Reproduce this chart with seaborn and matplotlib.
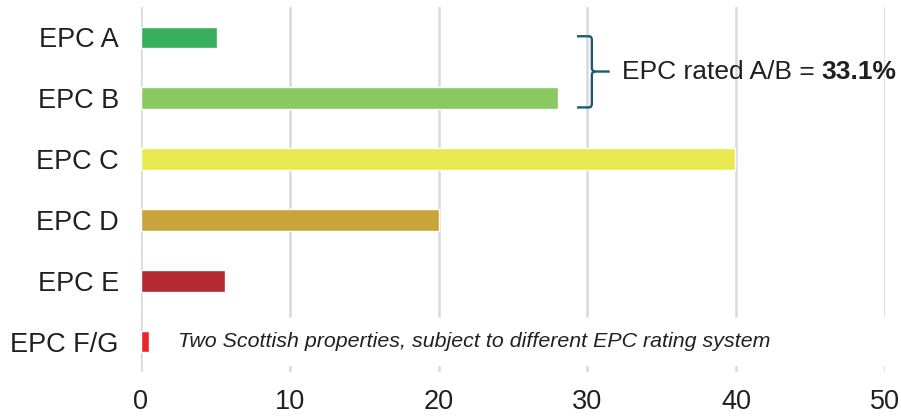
import matplotlib
matplotlib.use("Agg")
import matplotlib.pyplot as plt
from matplotlib.path import Path
from matplotlib.patches import PathPatch
import pandas as pd
import seaborn as sns

# Datos del gráfico (porcentaje de propiedades por calificación EPC)
categorias = ["EPC A", "EPC B", "EPC C", "EPC D", "EPC E", "EPC F/G"]
porcentajes = [5.1, 28.0, 39.9, 20.0, 5.65, 0.55]
colores = ["#37ae5b", "#8ac862", "#eae84f", "#c8a43d", "#b42a30", "#eb2628"]
ticks_x = [0, 10, 20, 30, 40, 50]
texto_ab = "EPC rated A/B = "
valor_ab = "33.1%"
nota_fg = "Two Scottish properties, subject to different EPC rating system"

sns.set_style("white")
plt.rcParams["font.family"] = ["Liberation Sans", "DejaVu Sans"]
color_texto = "#231f20"

df = pd.DataFrame({"categoria": categorias, "valor": porcentajes})

fig = plt.figure(figsize=(9.01, 4.16), dpi=100)
ax = fig.add_axes([141 / 901, 0.106, 744 / 901, 0.877])

sns.barplot(data=df, x="valor", y="categoria", hue="categoria", palette=colores,
            orient="h", width=0.36, legend=False, ax=ax, zorder=3, saturation=1)

ax.set_xlim(0, 50)
ax.set_ylim(5.5, -0.5)
ax.set_xticks(ticks_x)
ax.set_xlabel("")
ax.set_ylabel("")
ax.grid(axis="x", color="#d9d9d9", linewidth=1.8, zorder=0)
ax.grid(axis="y", visible=False)
ax.set_axisbelow(True)
for lado in ax.spines.values():
    lado.set_visible(False)
ax.tick_params(axis="both", length=0, labelsize=19.5, colors=color_texto)
ax.tick_params(axis="x", pad=12)
ax.tick_params(axis="y", pad=16)

# Franja blanca que corta la cuadrícula en la fila F/G
ax.axhspan(5 - 0.38, 5 + 0.38, xmin=0.004, xmax=1, color="white", zorder=1)
ax.text(2.5, 5, nota_fg, fontsize=15.4, style="italic", color=color_texto,
        va="center", ha="left", zorder=4)

# Llave para A/B
x0, xv, xt = 29.3, 30.3, 31.5
y0, ym, y1 = -0.02, 0.56, 1.15
rx, ry = 0.2, 0.06
verts = [(x0, y0), (xv - rx, y0), (xv, y0), (xv, y0 + ry),
         (xv, ym - ry), (xv, ym), (xv + rx, ym), (xt, ym),
         (xv + rx, ym), (xv, ym), (xv, ym + ry),
         (xv, y1 - ry), (xv, y1), (xv - rx, y1), (x0, y1)]
codes = [Path.MOVETO, Path.LINETO, Path.CURVE3, Path.CURVE3,
         Path.LINETO, Path.CURVE3, Path.CURVE3, Path.LINETO,
         Path.MOVETO, Path.CURVE3, Path.CURVE3,
         Path.LINETO, Path.CURVE3, Path.CURVE3, Path.LINETO]
ax.add_patch(PathPatch(Path(verts, codes), facecolor="none", edgecolor="#1f5a73",
                       linewidth=1.7, zorder=4, clip_on=False))

t1 = ax.text(32.3, 0.57, texto_ab, fontsize=19, color=color_texto, va="center", ha="left")
fig.canvas.draw()
bb = t1.get_window_extent()
x_fin = ax.transData.inverted().transform((bb.x1, bb.y0))[0]
ax.text(x_fin, 0.57, valor_ab, fontsize=19, fontweight="bold", color=color_texto,
        va="center", ha="left")

fig.savefig("out.png", dpi=100)
